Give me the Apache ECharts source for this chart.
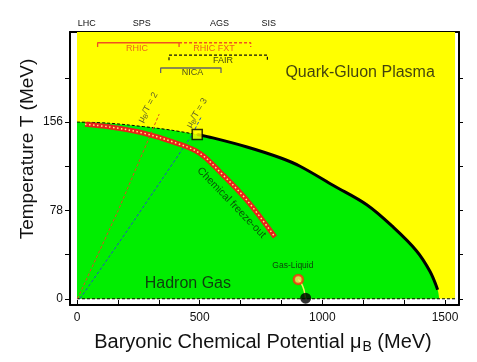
<!DOCTYPE html>
<html><head><meta charset="utf-8">
<script src="https://cdn.jsdelivr.net/npm/echarts@6/dist/echarts.min.js"></script>
<style>html,body{margin:0;padding:0;background:#fff}#c{width:477px;height:362px}</style>
</head><body><div id="c"></div><script>
// ---- axis ticks / labels ----
const xTickValues = [0,166.67,333.33,500,666.67,833.33,1000,1166.67,1333.33,1500];
const xLabelValues = [0,500,1000,1500];
const yTickValues = [0,39,78,117,156,195];
const yLabelValues = [0,78,156];
const acceleratorNames = ['LHC','SPS','AGS','SIS'];
const acceleratorMuB = [40,264,581,782];

// ---- regions and curves (muB MeV, T MeV) ----
const qgpRegion = [[0,0],[0,235.5],[1541,235.5],[1541,0]];
const crossoverDashed = [[0,156],[130,155],[270,152],[380,149],[490,145]];
const transitionLine = [[490,145],[554,142],[693,134],[828,124.5],[909,117],[1045,100],[1181,83],[1290,63],[1385,42],[1439,24],[1470,8]];
const hadronEdgeEnd = [[1476,0]];
const freezeOut = [[33,154],[135,151.6],[269,146.3],[408,137.2],[501,128.4],[583,111.9],[693,86.9],[807,54.5]];
const ratio2Line = [[2,0],[168,78],[335,163]];
const ratio3Line = [[12,0],[187,54.5],[468,144.3],[505,160]];
const criticalPoint = [[490,145]];
const gasLiquidPoint = [[902,17]];
const nuclearMatterPoint = [[932,0.5]];
const gasLiquidLine = [[902,17],[916,13],[926,7],[931,1]];
const zeroLine = [[0,0],[1541,0]];

// ---- facility ranges ----
const rhicRange = [[84,222.2],[84,226],[416,226],[416,222.2]];
const rhicFxtRange = [[416,226],[708,226],[708,222.2]];
const fairRange = [[375,210.6],[375,215],[776,215],[776,210.6]];
const nicaRange = [[341,199.3],[341,203.7],[587,203.7],[587,199.3]];

// ---- text labels ----
const textLabels = [
  {name:'RHIC', pos:[245,221.2], size:9, color:'#e8401a', rot:0},
  {name:'RHIC FXT', pos:[558,221.0], size:9, color:'#e8401a', rot:0},
  {name:'FAIR', pos:[595,209.9], size:9, color:'#111', rot:0},
  {name:'NICA', pos:[471,199.3], size:9, color:'#222', rot:0},
  {name:'Quark-Gluon Plasma', pos:[1154,199.3], size:16, color:'#111', rot:0},
  {name:'Hadron Gas', pos:[452,13], size:16, color:'#111', rot:0},
  {name:'Gas-Liquid', pos:[880,29.5], size:8.5, color:'#111', rot:0},
  {name:'Chemical freeze-out', pos:[630,84.7], size:10.5, color:'#0a2a0a', rot:-46},
  {name:'μ{s|B}/T = 2', pos:[289,169], size:9, color:'#333', rot:62},
  {name:'μ{s|B}/T = 3', pos:[488,164], size:9, color:'#333', rot:59.5}
];

const FONT = '"Liberation Sans", Arial, Helvetica, sans-serif';
const chart = echarts.init(document.getElementById('c'));

function polySeries(points, color, z){
  return {
    type:'custom', z:z, silent:true, data:[0],
    renderItem:function(params, api){
      return {type:'polygon', shape:{points: points.map(p=>api.coord(p))}, style:{fill:color}};
    }
  };
}
function lineSeries(data, color, width, type, z, smooth){
  return {type:'line', data:data, symbol:'none', silent:true, z:z, smooth:smooth||false,
    lineStyle:{color:color, width:width, type:type}, animation:false};
}

const greenBoundary = crossoverDashed.concat(transitionLine.slice(1), hadronEdgeEnd);

const series = [
  polySeries(qgpRegion, '#ffff00', 1),
  {type:'line', data:greenBoundary, symbol:'none', silent:true, z:2, smooth:0.35,
    lineStyle:{width:0, color:'#00ee00'}, areaStyle:{color:'#00ee00', opacity:1, origin:0}},
  lineSeries(zeroLine, '#000', 1, [3,2], 3),
  lineSeries(crossoverDashed, '#000', 1, [3,2], 3, 0.35),
  lineSeries(ratio2Line, '#e04a20', 1, [3,2], 4),
  lineSeries(ratio3Line, '#2050c8', 1, [3,2], 4),
  lineSeries(freezeOut, '#e8201a', 5, 'solid', 5, 0.35),
  lineSeries(freezeOut, '#fff07a', 1.5, [1.5,2.5], 6, 0.35),
  lineSeries(transitionLine, '#000', 3, 'solid', 6, 0.35),
  lineSeries(gasLiquidLine, '#f4f060', 1.5, 'solid', 6, 0.5),
  lineSeries(rhicRange, '#f05020', 1.3, 'solid', 6),
  lineSeries(rhicFxtRange, '#f05020', 1.3, [3,2], 6),
  lineSeries(fairRange, '#111', 1.2, [3,2], 6),
  lineSeries(nicaRange, '#666', 1.3, 'solid', 6),
  {type:'scatter', data:criticalPoint, symbol:'rect', symbolSize:10, z:8, silent:true,
    itemStyle:{color:'#ffff00', borderColor:'#000', borderWidth:1.5}},
  {type:'scatter', data:gasLiquidPoint, symbol:'circle', symbolSize:9, z:8, silent:true,
    itemStyle:{color:'#ffe060', borderColor:'#ff2a10', borderWidth:2.5}},
  {type:'scatter', data:nuclearMatterPoint, symbol:'circle', symbolSize:11, z:8, silent:true,
    itemStyle:{color:'#000'}},
  {type:'scatter', z:9, silent:true, symbolSize:0,
    data:textLabels.map(t=>({value:t.pos, label:{show:true, position:'inside', formatter:t.name,
      fontSize:t.size, color:t.color, rotate:t.rot, fontFamily:FONT,
      rich:{s:{fontSize:t.size*0.72, padding:[5,0,0,0], color:t.color, fontFamily:FONT}}}}))}
];

const axisLineStyle = {show:true, onZero:false, lineStyle:{color:'#000', width:2}};
const option = {
  animation:false,
  backgroundColor:'#fff',
  grid:{left:70, right:18, top:32, bottom:57, containLabel:false},
  xAxis:[
    {type:'value', position:'bottom', min:-28.5, max:1557, splitLine:{show:false},
     axisLine:axisLineStyle,
     axisTick:{show:true, inside:true, length:5, customValues:xTickValues, lineStyle:{color:'#000', width:1}},
     axisLabel:{customValues:xLabelValues, fontSize:12, color:'#111', margin:7, fontFamily:FONT,
       formatter:function(v){return String(Math.round(v));}}},
    {type:'value', position:'top', min:-28.5, max:1557, splitLine:{show:false},
     axisLine:axisLineStyle,
     axisTick:{show:true, inside:true, length:4, customValues:xTickValues.slice(1), lineStyle:{color:'#000', width:1}},
     axisLabel:{customValues:acceleratorMuB, fontSize:9, color:'#111', margin:4, fontFamily:FONT,
       formatter:function(v){const i=acceleratorMuB.indexOf(Math.round(v)); return i>=0?acceleratorNames[i]:'';}}}
  ],
  yAxis:[
    {type:'value', position:'left', min:-5.5, max:235.5, splitLine:{show:false},
     axisLine:axisLineStyle,
     axisTick:{show:true, inside:false, length:5, customValues:yTickValues, lineStyle:{color:'#000', width:1}},
     axisLabel:{customValues:yLabelValues, fontSize:12, color:'#111', margin:7, fontFamily:FONT,
       formatter:function(v){return String(Math.round(v));}}},
    {type:'value', position:'right', min:-5.5, max:235.5, splitLine:{show:false},
     axisLine:axisLineStyle,
     axisTick:{show:true, inside:false, length:4, customValues:yTickValues, lineStyle:{color:'#000', width:1}},
     axisLabel:{show:false}}
  ],
  graphic:[
    {type:'text', x:28, y:149, rotation:Math.PI/2, z:10,
     style:{text:'Temperature T (MeV)', font:'19px '+FONT, fill:'#111', align:'center', verticalAlign:'middle'}},
    {type:'text', x:263, y:342, z:10,
     style:{text:'Baryonic Chemical Potential μ{s|B} (MeV)', font:'20px '+FONT, fill:'#111', align:'center', verticalAlign:'middle',
       rich:{s:{fontSize:14, padding:[10,0,0,1], fill:'#111', fontFamily:FONT}}}}
  ],
  series:series
};
chart.setOption(option);
</script></body></html>
